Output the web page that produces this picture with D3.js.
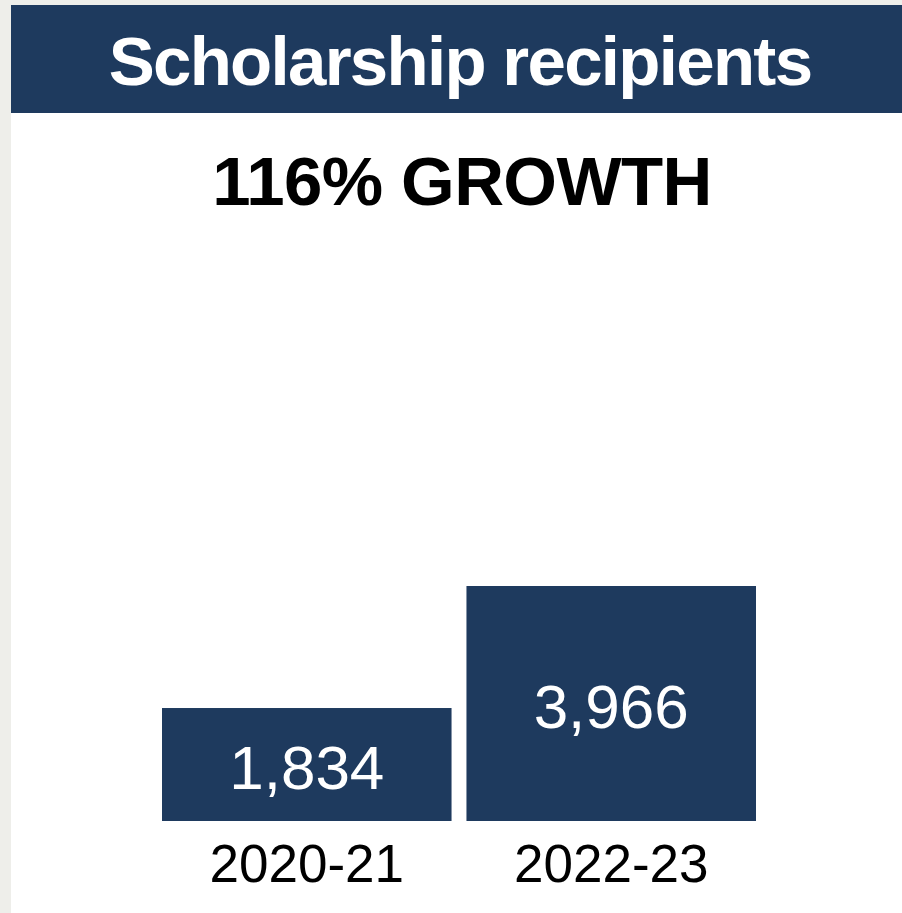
<!DOCTYPE html>
<html>
<head>
<meta charset="utf-8">
<script src="https://cdn.jsdelivr.net/npm/d3@7"></script>
<style>
  html, body { margin: 0; padding: 0; background: #eeeeea; }
  svg { display: block; }
</style>
</head>
<body>
<svg id="chart" width="902" height="913"></svg>
<script>
const title = "Scholarship recipients";
const subtitle = "116% GROWTH";
const categories = ["2020-21", "2022-23"];
const values = [1834, 3966];

const W = 902, H = 913;
const navy = "#1e3a5e";
const svg = d3.select("#chart");

// panel background
svg.append("rect").attr("x", 11).attr("y", 5).attr("width", W - 11).attr("height", H - 5).attr("fill", "#ffffff");
// header band
svg.append("rect").attr("x", 11).attr("y", 5).attr("width", W - 11).attr("height", 108).attr("fill", navy);

svg.append("text")
  .attr("x", 460).attr("y", 85)
  .attr("text-anchor", "middle")
  .attr("font-family", "'Liberation Sans', Arial, sans-serif")
  .attr("font-weight", "bold")
  .attr("font-size", 69)
  .attr("letter-spacing", -1.7)
  .attr("fill", "#ffffff")
  .text(title);

svg.append("text")
  .attr("x", 462).attr("y", 205)
  .attr("text-anchor", "middle")
  .attr("font-family", "'Liberation Sans', Arial, sans-serif")
  .attr("font-weight", "bold")
  .attr("font-size", 69)
  .attr("letter-spacing", -0.6)
  .attr("fill", "#000000")
  .text(subtitle);

const x = d3.scaleBand().domain(categories).range([162, 756]).paddingInner(0.049).paddingOuter(0);
const y = d3.scaleLinear().domain([-140, 3966]).range([821, 586]);

const g = svg.append("g");
const data = categories.map((c, i) => ({ c, v: values[i] }));

g.selectAll("rect.bar").data(data).join("rect")
  .attr("class", "bar")
  .attr("x", d => x(d.c))
  .attr("width", x.bandwidth())
  .attr("y", d => y(d.v))
  .attr("height", d => y(-140) - y(d.v))
  .attr("fill", navy);

g.selectAll("text.val").data(data).join("text")
  .attr("class", "val")
  .attr("x", d => x(d.c) + x.bandwidth() / 2)
  .attr("y", d => (y(d.v) + y(-140)) / 2 + 24)
  .attr("text-anchor", "middle")
  .attr("font-family", "'Liberation Sans', Arial, sans-serif")
  .attr("font-size", 62)
  .attr("fill", "#ffffff")
  .text(d => d3.format(",")(d.v));

const xAxis = d3.axisBottom(x).tickSize(0).tickPadding(0);
const ax = svg.append("g").attr("transform", "translate(0,882)").call(xAxis);
ax.select(".domain").remove();
ax.selectAll("text")
  .attr("dy", 0)
  .attr("font-family", "'Liberation Sans', Arial, sans-serif")
  .attr("font-size", 53)
  .attr("fill", "#000000");
</script>
</body>
</html>
